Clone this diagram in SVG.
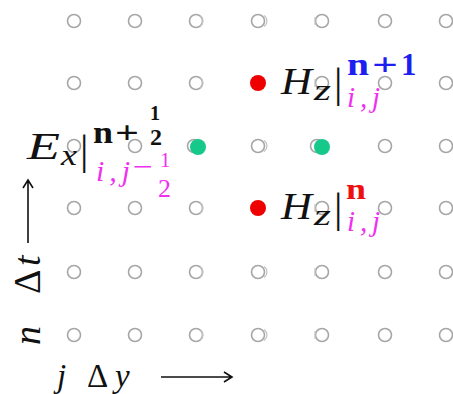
<svg xmlns="http://www.w3.org/2000/svg" width="453" height="394" viewBox="0 0 453 394">
<style>
.g{fill:none;stroke:#a6a6a6;stroke-width:1.6}
.ga{fill:none;stroke:#c4c4c4;stroke-width:1.2}
.red{fill:#ee0000}
.grn{fill:#16c98a}
.ax{stroke:#111;stroke-width:1.6;fill:none}
text{font-family:'Liberation Serif',serif;fill:#111}
.i{font-style:italic}
.b{font-weight:bold}
.mag{fill:#f030f0}
.blue{fill:#1e1ef0}
.rt{fill:#ee1010}
</style>
<g id="grid">
<g id="row1"><circle class="g" cx="74" cy="21" r="6.5"/><circle class="g" cx="135" cy="21" r="6.5"/><circle class="g" cx="196" cy="21" r="6.5"/><circle class="g" cx="258" cy="21" r="6.5"/><circle class="g" cx="322" cy="21" r="6.5"/><circle class="g" cx="385" cy="21" r="6.5"/><circle class="g" cx="446" cy="21" r="6.5"/></g>
<g id="row2"><circle class="g" cx="74" cy="83" r="6.5"/><circle class="g" cx="135" cy="83" r="6.5"/><circle class="g" cx="196" cy="83" r="6.5"/><circle class="g" cx="322" cy="83" r="6.5"/><circle class="g" cx="385" cy="83" r="6.5"/><circle class="g" cx="446" cy="83" r="6.5"/></g>
<g id="row3"><circle class="g" cx="74" cy="146" r="6.5"/><circle class="g" cx="135" cy="146" r="6.5"/><circle class="g" cx="194" cy="146" r="6.5"/><circle class="g" cx="258" cy="146" r="6.5"/><circle class="g" cx="317" cy="146" r="6.5"/><circle class="g" cx="385" cy="146" r="6.5"/><circle class="g" cx="446" cy="146" r="6.5"/></g>
<g id="row4"><circle class="g" cx="74" cy="208" r="6.5"/><circle class="g" cx="135" cy="208" r="6.5"/><circle class="g" cx="196" cy="208" r="6.5"/><circle class="g" cx="322" cy="208" r="6.5"/><circle class="g" cx="385" cy="208" r="6.5"/><circle class="g" cx="446" cy="208" r="6.5"/></g>
<g id="row5"><circle class="g" cx="74" cy="272" r="6.5"/><circle class="g" cx="135" cy="272" r="6.5"/><circle class="g" cx="196" cy="272" r="6.5"/><circle class="g" cx="258" cy="272" r="6.5"/><circle class="g" cx="322" cy="272" r="6.5"/><circle class="g" cx="385" cy="272" r="6.5"/><circle class="g" cx="446" cy="272" r="6.5"/></g>
<g id="row6"><circle class="g" cx="74" cy="335" r="6.5"/><circle class="g" cx="135" cy="335" r="6.5"/><circle class="g" cx="196" cy="335" r="6.5"/><circle class="g" cx="258" cy="335" r="6.5"/><circle class="g" cx="322" cy="335" r="6.5"/><circle class="g" cx="385" cy="335" r="6.5"/><circle class="g" cx="446" cy="335" r="6.5"/></g>
<path class="ga" d="M200,15.6 A6.5,6.5 0 0 1 200,26.4 M200,77.6 A6.5,6.5 0 0 1 200,88.4 M200,202.6 A6.5,6.5 0 0 1 200,213.4 M200,266.6 A6.5,6.5 0 0 1 200,277.4 M200,329.6 A6.5,6.5 0 0 1 200,340.4 M264,15.6 A6.5,6.5 0 0 1 264,26.4 M264,140.6 A6.5,6.5 0 0 1 264,151.4 M264,266.6 A6.5,6.5 0 0 1 264,277.4 M264,329.6 A6.5,6.5 0 0 1 264,340.4 M315,17 V25 M315,79 V87 M315,204 V212 M315,268 V276 M315,331 V339"/>
</g>
<g id="Hz-n1">
<circle class="red" cx="258" cy="83" r="8"/>
<text class="i" x="281" y="94" font-size="38" textLength="31" lengthAdjust="spacingAndGlyphs">H</text>
<text class="i" x="314" y="100" font-size="30" textLength="17" lengthAdjust="spacingAndGlyphs">z</text>
<text x="334" y="97" font-size="42">|</text>
<text class="b blue" x="347" y="75" font-size="31" textLength="22" lengthAdjust="spacingAndGlyphs">n</text>
<text class="b blue" x="372" y="75" font-size="31" textLength="26" lengthAdjust="spacingAndGlyphs">+</text>
<text class="b blue" x="401" y="75" font-size="31">1</text>
<text class="i mag" x="347" y="107" font-size="29" textLength="33" lengthAdjust="spacing">i,j</text>
</g>
<g id="Hz-n">
<circle class="red" cx="258" cy="208" r="8"/>
<text class="i" x="281" y="219" font-size="38" textLength="31" lengthAdjust="spacingAndGlyphs">H</text>
<text class="i" x="314" y="225" font-size="30" textLength="17" lengthAdjust="spacingAndGlyphs">z</text>
<text x="334" y="222" font-size="42">|</text>
<text class="b rt" x="346" y="199" font-size="30" textLength="20" lengthAdjust="spacingAndGlyphs">n</text>
<text class="i mag" x="347" y="231" font-size="29" textLength="33" lengthAdjust="spacing">i,j</text>
</g>
<g id="Ex">
<circle class="grn" cx="198" cy="147" r="8"/>
<circle class="grn" cx="322" cy="147" r="8"/>
<text class="i" x="27" y="159" font-size="38" textLength="33" lengthAdjust="spacingAndGlyphs">E</text>
<text class="i" x="61" y="165" font-size="30" textLength="16" lengthAdjust="spacingAndGlyphs">x</text>
<text x="80" y="164" font-size="42">|</text>
<text class="b" x="93" y="143" font-size="31" textLength="20" lengthAdjust="spacingAndGlyphs">n</text>
<text class="b" x="115" y="143" font-size="32" textLength="24" lengthAdjust="spacingAndGlyphs">+</text>
<text class="b" x="150" y="120" font-size="20">1</text>
<text class="b" x="150" y="145" font-size="24">2</text>
<text class="i mag" x="96" y="181" font-size="30" textLength="34" lengthAdjust="spacing">i,j</text>
<text class="mag" x="133" y="176" font-size="28" textLength="20" lengthAdjust="spacingAndGlyphs">−</text>
<text class="mag" x="160" y="167" font-size="21">1</text>
<text class="mag" x="158" y="197" font-size="26">2</text>
</g>
<g id="axes">
<g id="t-axis">
<text transform="translate(40,345) rotate(-90)" font-size="38"><tspan class="i" x="0" y="0">n</tspan><tspan x="51" y="0">Δ</tspan><tspan class="i" x="79" y="0">t</tspan></text>
<path class="ax" d="M28,243 V181 M23,188 L28,180 L33,188"/>
</g>
<g id="y-axis">
<text y="387" font-size="33"><tspan class="i" x="57">j</tspan><tspan x="87">Δ</tspan><tspan class="i" x="115">y</tspan></text>
<path class="ax" d="M161,377 H231 M224,372 L232,377 L224,382"/>
</g>
</g>
</svg>
